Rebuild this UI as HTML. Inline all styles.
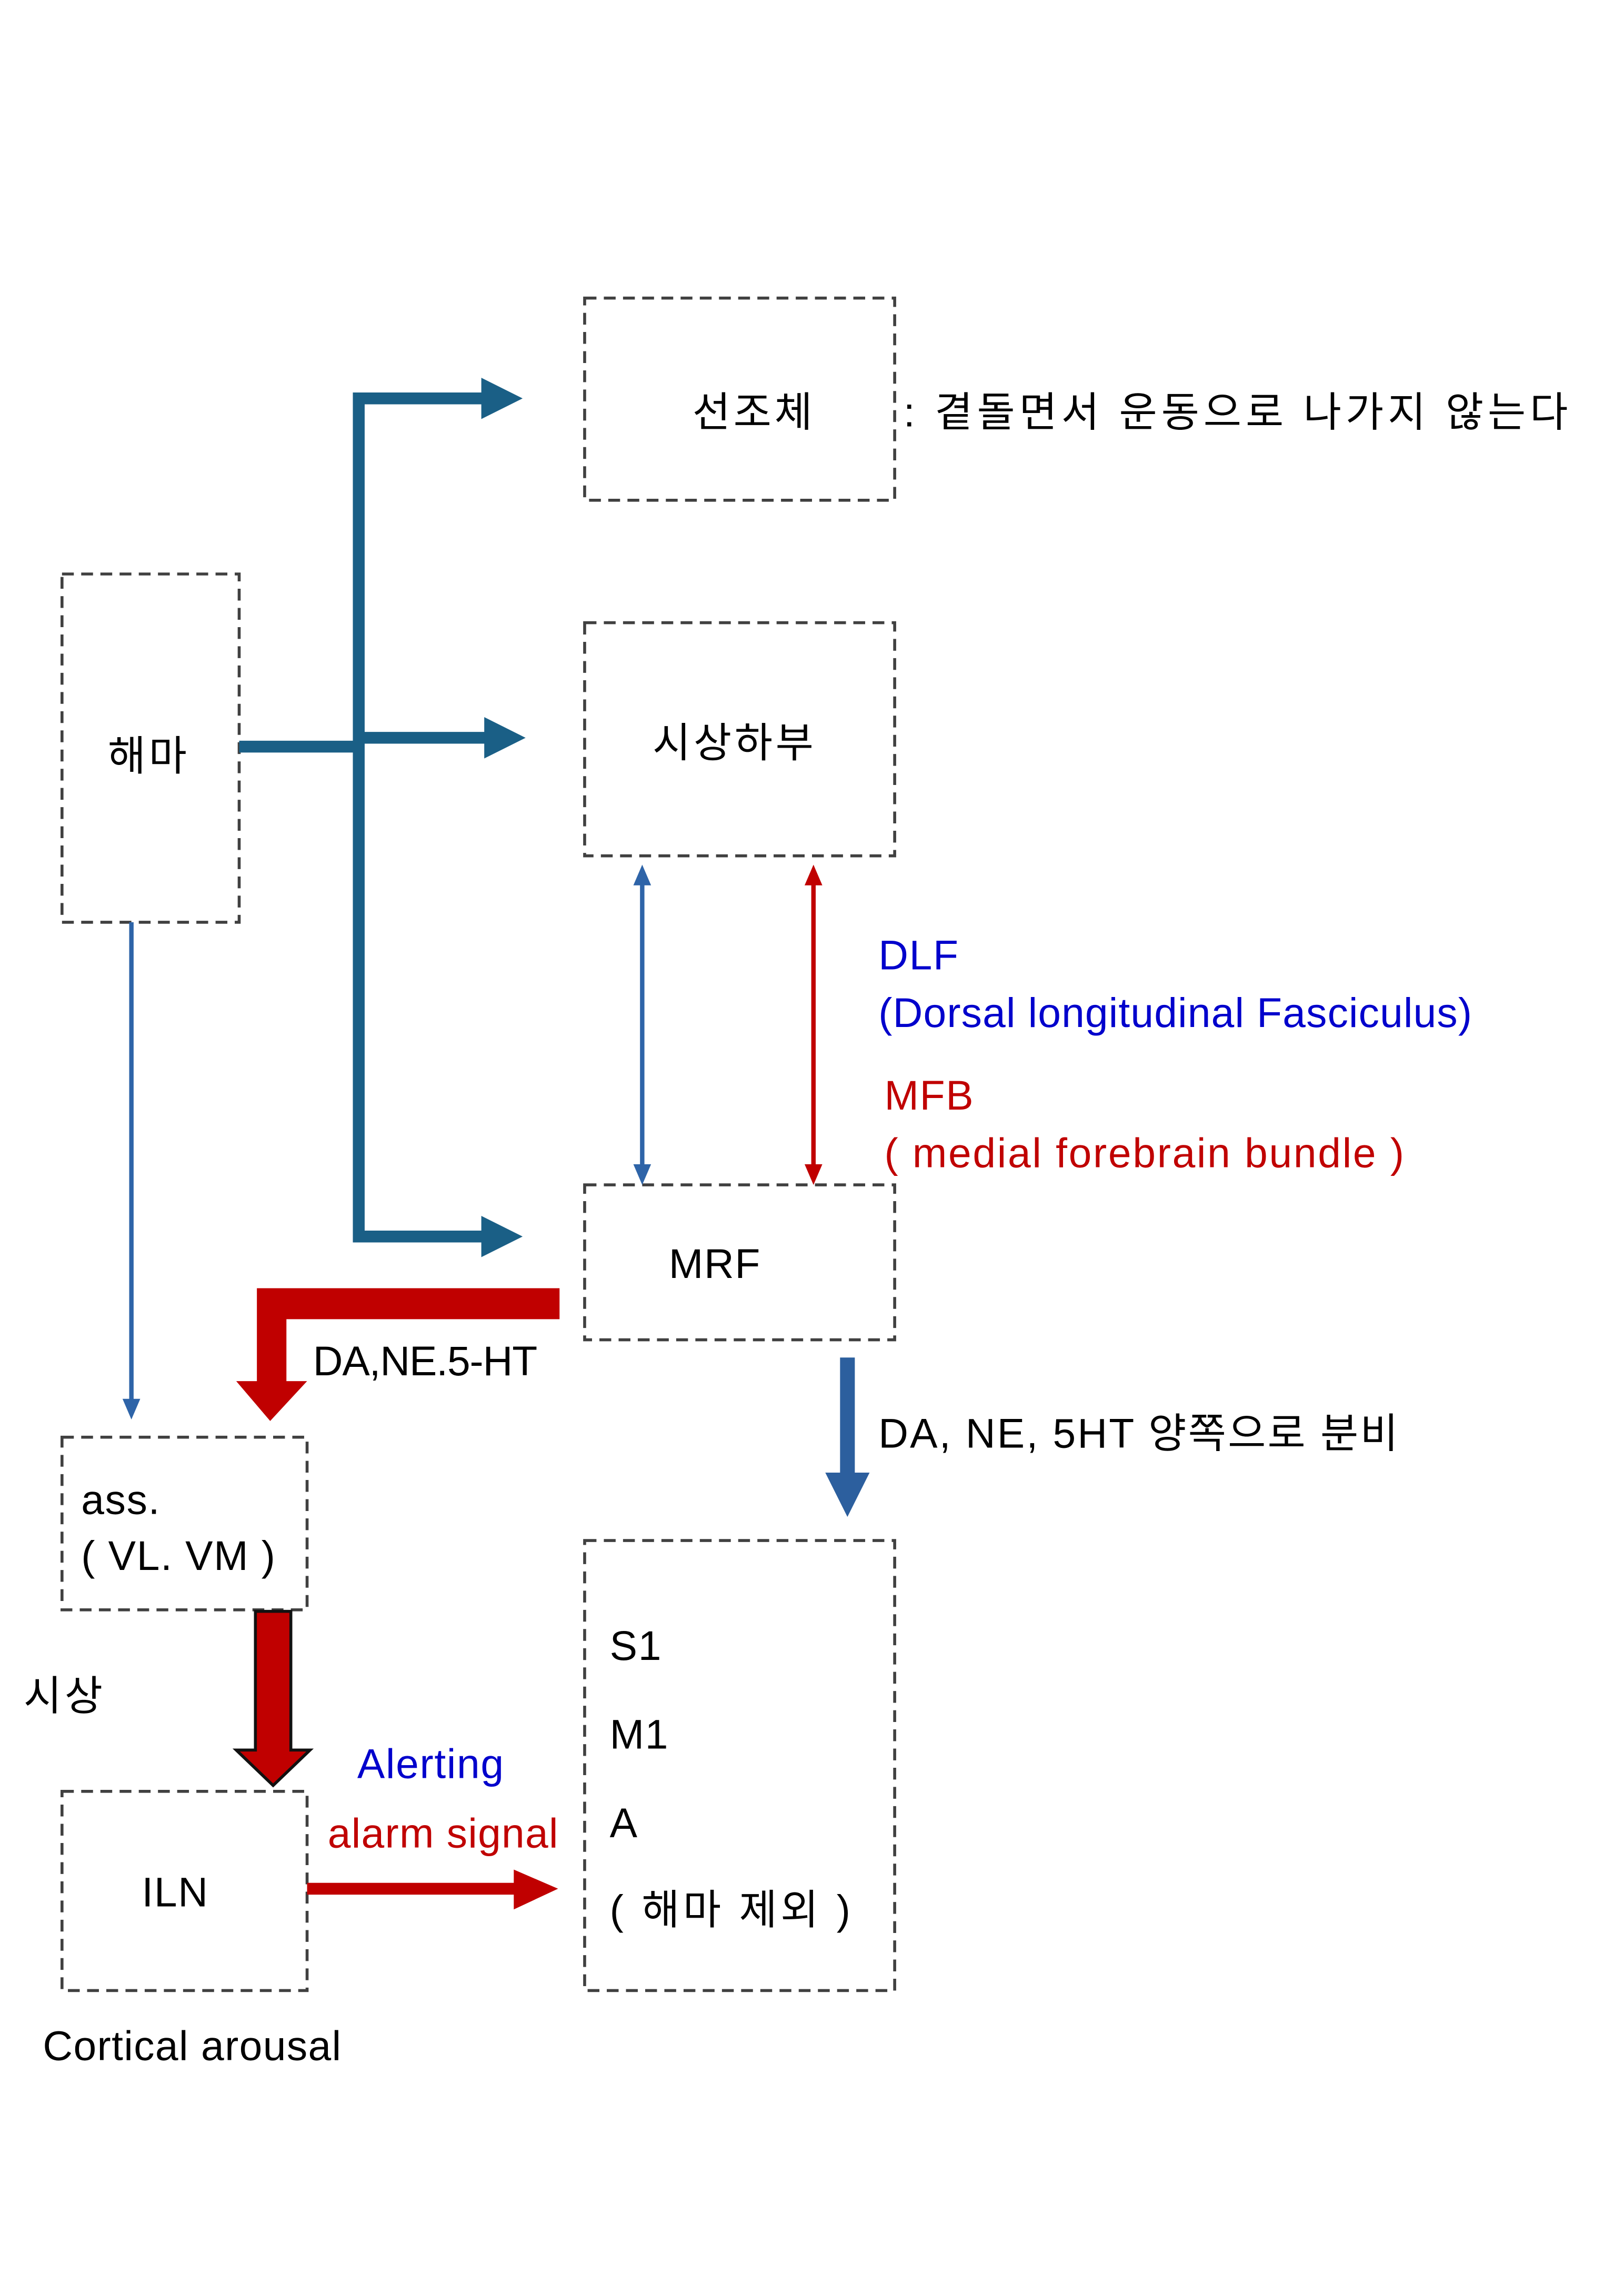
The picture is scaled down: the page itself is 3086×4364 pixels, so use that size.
<!DOCTYPE html>
<html><head><meta charset="utf-8"><style>
html,body{margin:0;padding:0;background:#fff}
svg{display:block}
text{font-family:"Liberation Sans","Noto Sans CJK KR","NanumGothic",sans-serif;font-size:28px}
.l{letter-spacing:0.6px}
.k{letter-spacing:2px}
</style></head><body>
<svg width="3086" height="4364" viewBox="0 0 1100 1556" preserveAspectRatio="none" xmlns="http://www.w3.org/2000/svg">
<rect width="1100" height="1556" fill="#fff"/>
<g fill="none" stroke="#404040" stroke-width="2" stroke-dasharray="8,5">
<rect x="396" y="202" width="210" height="137"/>
<rect x="396" y="422" width="210" height="158"/>
<rect x="42" y="389" width="120" height="236"/>
<rect x="396" y="803" width="210" height="105"/>
<rect x="42" y="974" width="166" height="117"/>
<rect x="42" y="1214" width="166" height="135"/>
<rect x="396" y="1044" width="210" height="305"/>
</g>
<g stroke="#1a5f86" stroke-width="8" fill="none">
<path d="M243 266 V842"/>
<path d="M239 270 H330"/>
<path d="M162 506 H243"/>
<path d="M243 500 H330"/>
<path d="M239 838 H330"/>
</g>
<g fill="#1a5f86">
<polygon points="326,256 354,270 326,284"/>
<polygon points="328,486 356,500 328,514"/>
<polygon points="326,824 354,838 326,852"/>
</g>
<line x1="89" y1="625" x2="89" y2="950" stroke="#2e64a8" stroke-width="3"/>
<polygon points="83,948 95,948 89,962" fill="#2e64a8"/>
<line x1="435" y1="597" x2="435" y2="792" stroke="#2e64a8" stroke-width="3"/>
<polygon points="429,600 441,600 435,586" fill="#2e64a8"/>
<polygon points="429,789 441,789 435,803" fill="#2e64a8"/>
<line x1="551" y1="597" x2="551" y2="792" stroke="#c00000" stroke-width="3"/>
<polygon points="545,600 557,600 551,586" fill="#c00000"/>
<polygon points="545,789 557,789 551,803" fill="#c00000"/>
<polygon points="379,873 379,894 194,894 194,936 208,936 183,963 160,936 174,936 174,873" fill="#c00000"/>
<polygon points="173,1092 197,1092 197,1186 210,1186 185,1210 160,1186 173,1186" fill="#c00000" stroke="#111" stroke-width="2"/>
<rect x="569" y="920" width="10" height="80" fill="#2c5f9e"/>
<polygon points="559,998 589,998 574,1028" fill="#2c5f9e"/>
<rect x="208" y="1276" width="144" height="8" fill="#c00000"/>
<polygon points="348,1267 378,1280 348,1294" fill="#c00000"/>
<text x="469" y="289" class="k">선조체</text>
<text x="612" y="289" textLength="450" lengthAdjust="spacing">: 곁돌면서 운동으로 나가지 않는다</text>
<text x="442" y="513" class="k">시상하부</text>
<text x="73" y="522" class="k">해마</text>
<text x="595" y="657" fill="#0000cc" class="l">DLF</text>
<text x="595" y="696" fill="#0000cc" textLength="402" lengthAdjust="spacing">(Dorsal longitudinal Fasciculus)</text>
<text x="599" y="752" fill="#c00000" class="l">MFB</text>
<text x="599" y="791" fill="#c00000" textLength="352" lengthAdjust="spacing">( medial forebrain bundle )</text>
<text x="453" y="866" class="l">MRF</text>
<text x="212" y="932" textLength="152" lengthAdjust="spacing">DA,NE.5-HT</text>
<text x="595" y="981" textLength="352" lengthAdjust="spacing">DA, NE, 5HT 양쪽으로 분비</text>
<text x="55" y="1026" class="l">ass.</text>
<text x="55" y="1064" class="l">( VL. VM )</text>
<text x="16" y="1159" class="k">시상</text>
<text x="242" y="1205" fill="#0000cc" class="l">Alerting</text>
<text x="222" y="1252" fill="#c00000" textLength="156" lengthAdjust="spacing">alarm signal</text>
<text x="96" y="1292" class="l">ILN</text>
<text x="413" y="1125" class="l">S1</text>
<text x="413" y="1185" class="l">M1</text>
<text x="413" y="1245">A</text>
<text x="413" y="1304" textLength="163" lengthAdjust="spacing">( 해마 제외 )</text>
<text x="29" y="1396" textLength="202" lengthAdjust="spacing">Cortical arousal</text>
</svg>
</body></html>
